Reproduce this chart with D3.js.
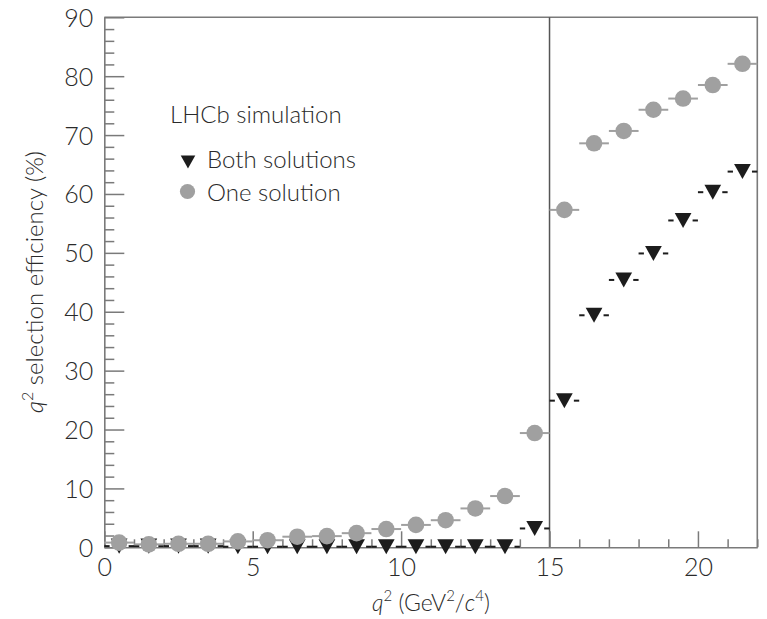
<!DOCTYPE html>
<html>
<head>
<meta charset="utf-8">
<script src="https://cdn.jsdelivr.net/npm/d3@7"></script>
<style>
  html, body { margin: 0; padding: 0; background: #fff; }
  svg { display: block; font-family: Lato, "Open Sans", sans-serif; font-weight: 300; }
</style>
</head>
<body>
<svg id="chart" width="767" height="619"></svg>
<script>
// ---- data ----
const binCenters = [0.5, 1.5, 2.5, 3.5, 4.5, 5.5, 6.5, 7.5, 8.5, 9.5, 10.5,
                    11.5, 12.5, 13.5, 14.5, 15.5, 16.5, 17.5, 18.5, 19.5, 20.5, 21.5];
const binHalfWidth = 0.5;
const oneSolution = [0.8, 0.5, 0.6, 0.6, 1.0, 1.2, 1.8, 1.9, 2.4, 3.1, 3.8,
                     4.6, 6.6, 8.7, 19.4, 57.3, 68.6, 70.7, 74.3, 76.2, 78.5, 82.1];
const bothSolutions = [0.2, 0.2, 0.2, 0.2, 0.1, 0.1, 0.1, 0.1, 0.1, 0.1, 0.1,
                       0.1, 0.1, 0.1, 3.2, 24.9, 39.4, 45.4, 49.9, 55.5, 60.3, 63.8];
const xTicks = [0, 5, 10, 15, 20];
const xMinorTicks = d3.range(0, 23, 1).filter(v => v % 5 !== 0);
const yTicks = [0, 10, 20, 30, 40, 50, 60, 70, 80, 90];
const yMinorTicks = d3.range(0, 91, 2).filter(v => v % 10 !== 0);
const cutValue = 15;
const legendTitle = "LHCb simulation";
const seriesNames = ["Both solutions", "One solution"];

// ---- layout ----
const svg = d3.select("#chart");
const x = d3.scaleLinear().domain([0, 22]).range([104.3, 757.3]);
const y = d3.scaleLinear().domain([0, 90]).range([547.3, 17.3]);
const axisColor = "#7a7a7a";
const textColor = "#2a2a2a";
const grey = "#a0a0a0";
const black = "#1c1c1c";

// frame (top and right)
svg.append("path")
  .attr("d", `M${x(0)},${y(90)}H${x(22)}V${y(0)}`)
  .attr("fill", "none").attr("stroke", axisColor).attr("stroke-width", 1.6);

// vertical cut line
svg.append("line")
  .attr("x1", x(cutValue)).attr("x2", x(cutValue))
  .attr("y1", y(0)).attr("y2", y(90))
  .attr("stroke", "#555").attr("stroke-width", 1.5);

function styleAxis(g) {
  g.selectAll("path.domain").attr("stroke", axisColor).attr("stroke-width", 1.6);
  g.selectAll(".tick line").attr("stroke", axisColor).attr("stroke-width", 1.5);
  g.selectAll(".tick text").attr("fill", textColor)
    .style("font-size", "25px").style("font-family", "Lato, sans-serif").style("font-weight", 300);
}

// y axis
const gyMinor = svg.append("g").attr("transform", `translate(${x(0)},0)`)
  .call(d3.axisLeft(y).tickValues(yMinorTicks).tickSize(-10).tickFormat(""));
gyMinor.select("path.domain").remove();
styleAxis(gyMinor);
const gy = svg.append("g").attr("transform", `translate(${x(0)},0)`)
  .call(d3.axisLeft(y).tickValues(yTicks).tickSizeInner(-20).tickSizeOuter(0).tickPadding(11));
styleAxis(gy);
gy.selectAll(".tick text").attr("dy", "0.36em");

// x axis
const gxMinor = svg.append("g").attr("transform", `translate(0,${y(0)})`)
  .call(d3.axisBottom(x).tickValues(xMinorTicks).tickSize(-8).tickFormat(""));
gxMinor.select("path.domain").remove();
styleAxis(gxMinor);
const gx = svg.append("g").attr("transform", `translate(0,${y(0)})`)
  .call(d3.axisBottom(x).tickValues(xTicks).tickSizeInner(-16).tickSizeOuter(0).tickPadding(11));
styleAxis(gx);

// custom downward triangle, centred on its bounding box
const triDown = {
  draw(ctx, size) {
    const w = Math.sqrt(size) * 1.03, h = w * 0.9;
    ctx.moveTo(-w / 2, -h / 2);
    ctx.lineTo(w / 2, -h / 2);
    ctx.lineTo(0, h / 2);
    ctx.closePath();
  }
};

const both = binCenters.map((c, i) => ({ c, v: bothSolutions[i] }));
const one = binCenters.map((c, i) => ({ c, v: oneSolution[i] }));

// error bars are drawn outside the marker
function errorBars(g, data, color, gapPx) {
  g.selectAll("line.l").data(data).join("line").attr("class", "l")
    .attr("x1", d => x(d.c - binHalfWidth)).attr("x2", d => x(d.c) - gapPx)
    .attr("y1", d => y(d.v)).attr("y2", d => y(d.v))
    .attr("stroke", color).attr("stroke-width", 2);
  g.selectAll("line.r").data(data).join("line").attr("class", "r")
    .attr("x1", d => x(d.c) + gapPx).attr("x2", d => x(d.c + binHalfWidth))
    .attr("y1", d => y(d.v)).attr("y2", d => y(d.v))
    .attr("stroke", color).attr("stroke-width", 2);
}

// Both solutions series
errorBars(svg.append("g"), both, black, 9.5);
svg.append("g").selectAll("path").data(both).join("path")
  .attr("d", d3.symbol(triDown, 264))
  .attr("transform", d => `translate(${x(d.c)},${y(d.v)})`)
  .attr("fill", black);

// One solution series
errorBars(svg.append("g"), one, grey, 7.5);
svg.append("g").selectAll("circle").data(one).join("circle")
  .attr("cx", d => x(d.c)).attr("cy", d => y(d.v)).attr("r", 8.3)
  .attr("fill", grey);

// legend
svg.append("text").attr("x", 170).attr("y", 123).attr("fill", textColor)
  .style("font-size", "24px").text(legendTitle);
svg.append("path").attr("d", d3.symbol(triDown, 200))
  .attr("transform", "translate(188,162)").attr("fill", black);
svg.append("text").attr("x", 207).attr("y", 168).attr("fill", textColor)
  .style("font-size", "24px").text(seriesNames[0]);
svg.append("circle").attr("cx", 187.5).attr("cy", 191.5).attr("r", 7.6).attr("fill", grey);
svg.append("text").attr("x", 207).attr("y", 200.5).attr("fill", textColor)
  .style("font-size", "24px").text(seriesNames[1]);

// axis titles (built from tspans, then centred by measuring)
function richTitle(sel, parts, size) {
  const supSize = Math.round(size * 0.65), shift = Math.round(size * 0.42);
  let up = false;
  parts.forEach(p => {
    const t = sel.append("tspan").text(p.t);
    if (p.sup && !up) { t.attr("dy", -shift); up = true; }
    else if (!p.sup && up) { t.attr("dy", shift); up = false; }
    if (p.sup) t.style("font-size", supSize + "px");
    if (p.it) t.style("font-style", "italic");
  });
  const len = sel.node().getComputedTextLength();
  sel.attr("x", -len / 2);
}

const yTitleParts = [{ t: "q", it: true }, { t: "2", sup: true }, { t: " selection efficiency (%)" }];
const ytG = svg.append("g").attr("transform", "translate(43,282) rotate(-90)");
const yt = ytG.append("text").attr("y", 0).attr("fill", textColor).style("font-size", "24px");
richTitle(yt, yTitleParts, 24);

const xTitleParts = [{ t: "q", it: true }, { t: "2", sup: true }, { t: " (GeV" }, { t: "2", sup: true },
                     { t: "/" }, { t: "c", it: true }, { t: "4", sup: true }, { t: ")" }];
const xtG = svg.append("g").attr("transform", "translate(431,611)");
const xt = xtG.append("text").attr("y", 0).attr("fill", textColor).style("font-size", "23px");
richTitle(xt, xTitleParts, 23);
</script>
</body>
</html>
